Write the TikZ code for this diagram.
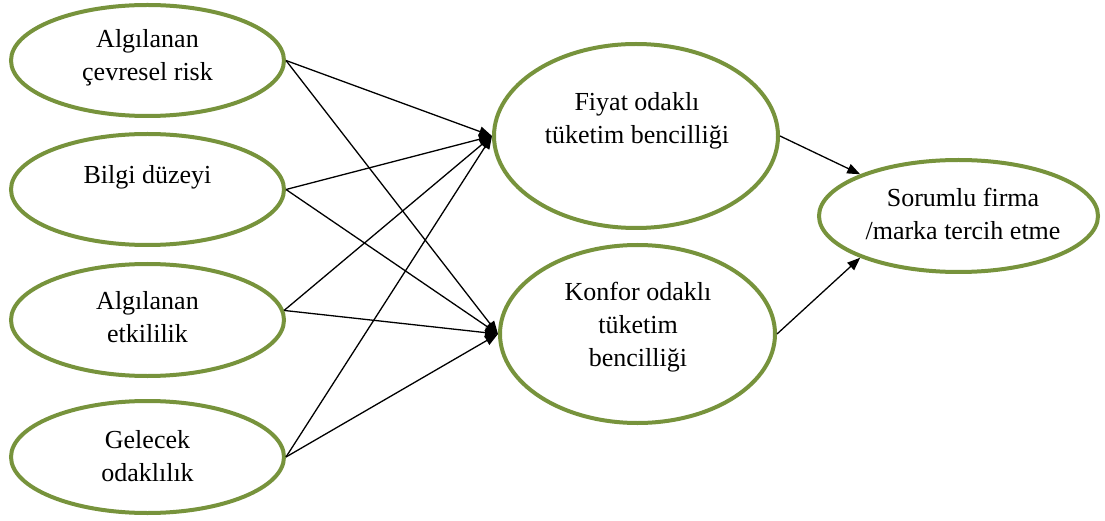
\documentclass[tikz,border=0pt]{standalone}
\usepackage{fontspec}
\setmainfont{Liberation Serif}
\usetikzlibrary{shapes.geometric,arrows.meta}
\definecolor{olivegr}{HTML}{77933C}
\begin{document}
\begin{tikzpicture}[x=1pt,y=-1pt,
  oval/.style={ellipse,draw=olivegr,line width=4pt,fill=white,inner sep=0pt},
  lbl/.style={align=center,inner sep=0pt,font=\fontsize{26}{33}\selectfont},
  link/.style={line width=1.3pt,-{Triangle[length=13pt,width=10pt]}}]
\useasboundingbox (0,0) rectangle (1105,521);
% left column
\node[oval,minimum width=273pt,minimum height=111pt] (e1) at (147.5,60.5) {};
\node[oval,minimum width=273pt,minimum height=111pt] (e2) at (147.5,189.5) {};
\node[oval,minimum width=273pt,minimum height=112pt] (e3) at (147.5,320) {};
\node[oval,minimum width=273pt,minimum height=112pt] (e4) at (147.5,457) {};
% middle
\node[oval,minimum width=284pt,minimum height=184pt] (fy) at (636,136) {};
\node[oval,minimum width=275pt,minimum height=178pt] (kf) at (637.5,334) {};
% right
\node[oval,minimum width=279pt,minimum height=112pt] (so) at (958.5,216) {};
% texts
\node[lbl] (t1) at (147.5,58) {Algılanan\\çevresel risk};
\node[lbl] (t2) at (147.5,177) {Bilgi düzeyi};
\node[lbl] (t3) at (147.5,317) {Algılanan\\etkililik};
\node[lbl] (t4) at (147.5,456) {Gelecek\\odaklılık};
\node[lbl] (t5) at (637,121) {Fiyat odaklı\\tüketim bencilliği};
\node[lbl] (t6) at (638,327) {Konfor odaklı\\tüketim\\bencilliği};
\node[lbl] (t7) at (963,214) {Sorumlu firma\\/marka tercih etme};
% connectors
\foreach \s/\a in {e1/east,e2/east,e3/4,e4/east}{
  \draw[link] (\s.\a) -- (fy.west);
  \draw[link] (\s.\a) -- (kf.west);
}
\draw[link] (fy.east) -- (so.157);
\draw[link] (kf.east) -- (so.203);
\end{tikzpicture}
\end{document}
